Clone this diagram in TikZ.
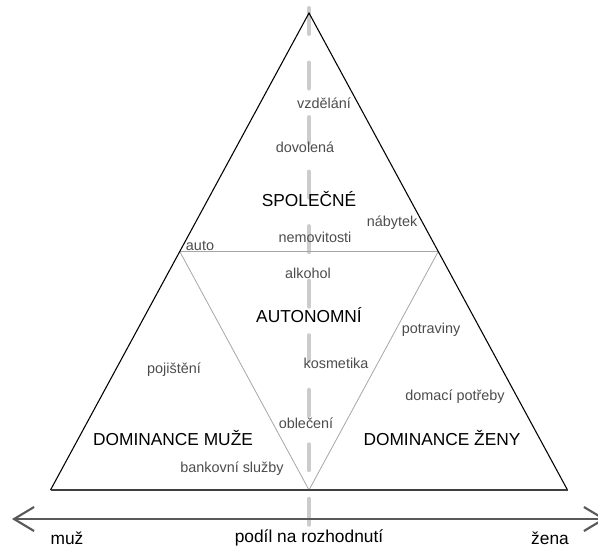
\documentclass[tikz,border=0pt]{standalone}
\usepackage{fontspec}
\setmainfont{Liberation Sans}
\usetikzlibrary{arrows.meta, calc}

\begin{document}
\begin{tikzpicture}[x=0.75pt, y=-0.75pt,
  item/.style={text=black!70, font=\fontsize{10.8}{12}\selectfont, inner sep=0pt},
  heading/.style={text=black, font=\fontsize{13}{15}\selectfont, inner sep=0pt},
  axis/.style={black!65, line width=1.6pt},
  barb/.tip={Straight Barb[length=15pt, width=18pt]}]
\useasboundingbox (0,0) rectangle (598,549);
\coordinate (top) at (309,13);
\coordinate (bl) at (50.5,490);
\coordinate (br) at (567.5,490);
\coordinate (ml) at ($(top)!0.5!(bl)$);
\coordinate (mr) at ($(top)!0.5!(br)$);
\coordinate (mb) at ($(bl)!0.5!(br)$);
\coordinate (axtop) at (309,8);
\coordinate (axbot) at (309,525);
\coordinate (axl) at (12,519);
\coordinate (axr) at (606,519);
\draw [black!20, line width=3pt, line cap=round, dash pattern=on 19.5pt off 21.4pt] (axtop) -- (axbot);
\draw [gray!70, line width=0.6pt] (ml) -- (mr) -- (mb) -- cycle;
\draw [line width=0.8pt] (bl) -- (top) -- (br);
\draw [black!75, line width=1.1pt] (bl) -- (br);
\draw [axis, barb-barb] (axl) -- (axr);
\node[heading] (spolecne) at (309,199) {SPOLEČNÉ};
\node[heading] (autonomni) at (309,315) {AUTONOMNÍ};
\node[heading] (muze) at (173,438) {DOMINANCE MUŽE};
\node[heading] (zeny) at (442,438) {DOMINANCE ŽENY};
\node[item] (vzdelani) at (324,103) {vzdělání};
\node[item] (dovolena) at (305,147) {dovolená};
\node[item] (nabytek) at (392,223) {nábytek};
\node[item] (nemovitosti) at (315,237) {nemovitosti};
\node[item] (auto) at (200,246) {auto};
\node[item] (alkohol) at (308,273) {alkohol};
\node[item] (potraviny) at (431,330) {potraviny};
\node[item] (kosmetika) at (336,363) {kosmetika};
\node[item] (pojisteni) at (174,370) {pojištění};
\node[item] (domaci) at (455,397) {domací potřeby};
\node[item] (obleceni) at (306,423) {oblečení};
\node[item] (bankovni) at (232,469) {bankovní služby};
\node[heading] (muz) at (67,538) {muž};
\node[heading] (podil) at (309,538) {podíl na rozhodnutí};
\node[heading] (zena) at (550,538) {žena};
\end{tikzpicture}
\end{document}
